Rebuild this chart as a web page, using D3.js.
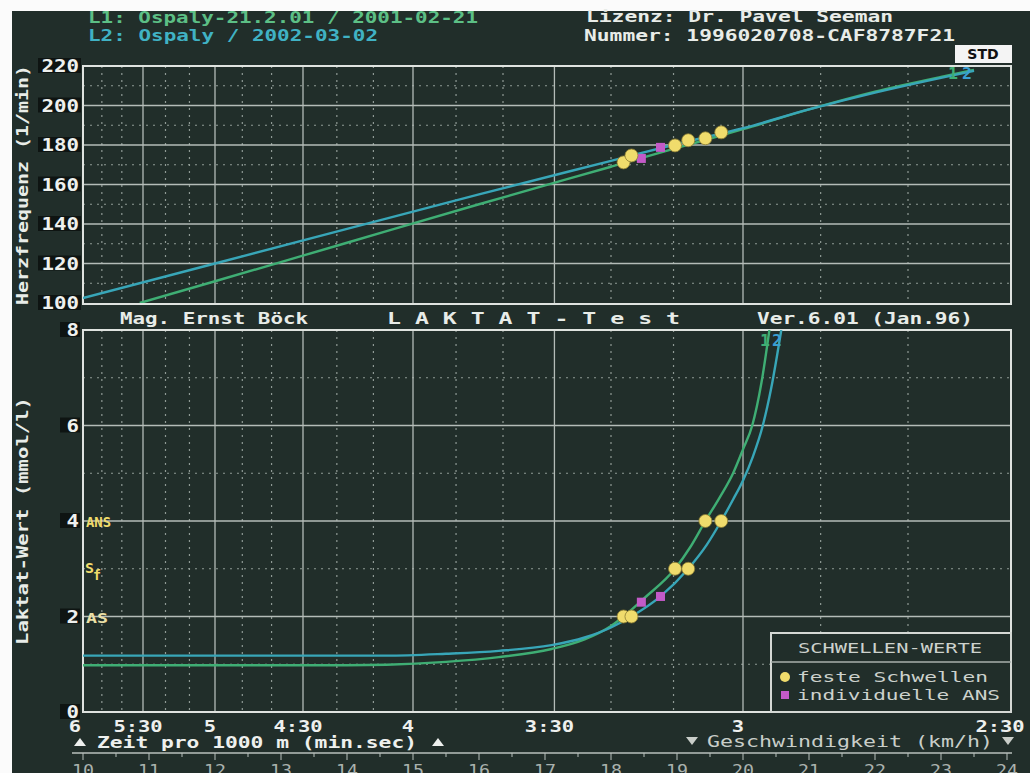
<!DOCTYPE html>
<html>
<head>
<meta charset="utf-8">
<script src="https://cdn.jsdelivr.net/npm/d3@7"></script>
<style>
  body { margin: 0; background: #fff; }
</style>
</head>
<body>
<svg id="chart" width="1030" height="773"></svg>
<script>
// heart rate curves (speed km/h -> 1/min)
const hrSpeedL1 = [10.86, 12, 14, 16, 18, 19, 20, 21, 22, 23, 23.5];
const hrL1 = [100, 111, 130.5, 150, 169, 178.5, 188, 198, 207, 214.5, 218];
const hrSpeedL2 = [10, 12, 14, 16, 18, 19, 20, 21, 22, 23, 23.5];
const hrL2 = [102.5, 120, 137.5, 155, 172, 180.5, 188.5, 198, 206.5, 214, 217.5];

// lactate curves (speed km/h -> mmol/l)
const lacSpeedL1 = [10, 12, 14, 14.6, 15.5, 16.3, 17.1, 17.6, 18, 18.19, 18.5, 18.97, 19.2, 19.43, 19.65, 19.85, 20.0, 20.14, 20.28, 20.4];
const lacL1 = [0.98, 0.98, 0.98, 0.99, 1.05, 1.15, 1.32, 1.52, 1.8, 2.0, 2.38, 3.0, 3.45, 4.0, 4.5, 5.0, 5.5, 6.0, 6.9, 8.0];
const lacSpeedL2 = [10, 12, 14, 14.6, 15.5, 16.3, 17.1, 17.6, 18, 18.31, 18.75, 19.17, 19.45, 19.67, 19.85, 20.0, 20.15, 20.3, 20.43, 20.58];
const lacL2 = [1.18, 1.18, 1.18, 1.18, 1.22, 1.28, 1.4, 1.56, 1.77, 2.0, 2.42, 3.0, 3.5, 4.0, 4.45, 4.85, 5.35, 6.0, 6.8, 8.0];

// fixed thresholds (AS, Sf, ANS)
const thrLactate = [2, 3, 4];
const thrSpeedL1 = [18.19, 18.97, 19.43];
const thrSpeedL2 = [18.31, 19.17, 19.67];
const thrHrL1 = [171.2, 179.8, 183.4];
const thrHrL2 = [174.7, 182.4, 186.4];

// individual ANS
const ansSpeed = [18.46, 18.75];
const ansLactate = [2.3, 2.42];
const ansHr = [173.2, 178.8];

// axis ticks
const hrTicks = [100, 120, 140, 160, 180, 200, 220];
const lacTicks = [0, 2, 4, 6, 8];
const paceSec = [360, 330, 300, 270, 240, 210, 180, 150];
const paceLabels = ["6", "5:30", "5", "4:30", "4", "3:30", "3", "2:30"];
const speedTicks = [10, 11, 12, 13, 14, 15, 16, 17, 18, 19, 20, 21, 22, 23, 24];

const bg = "#212e2a";
const colL1 = "#3fae74";
const colL2 = "#38a6b8";
const yellow = "#f0dc6c";
const magenta = "#c35ac8";
const font = "DejaVu Sans Mono, monospace";

const svg = d3.select("#chart");

const x = d3.scaleLinear().domain([10, 24]).range([83, 1007]);
const yHr = d3.scaleLinear().domain([100, 220]).range([303, 66]);
const yLac = d3.scaleLinear().domain([0, 8]).range([712, 330]);

function txt(g, px, py, s, w, fill, size, weight, anchor) {
    const t = g.append("text")
        .attr("x", px).attr("y", py)
        .attr("fill", fill)
        .attr("font-family", font)
        .attr("font-weight", weight || "bold")
        .attr("font-size", size || 16)
        .attr("text-anchor", anchor || "start")
        .text(s);
    if (w) t.attr("textLength", w).attr("lengthAdjust", "spacingAndGlyphs");
    return t;
}

// scan margin + screen
svg.append("rect").attr("width", 1030).attr("height", 773).attr("fill", "#fbfbfb");
svg.append("rect").attr("x", 12).attr("y", 11).attr("width", 1018).attr("height", 762).attr("fill", bg);

svg.append("defs").call(d => {
    d.append("clipPath").attr("id", "clipTop").append("rect")
        .attr("x", 83).attr("y", 66).attr("width", 928).attr("height", 237);
    d.append("clipPath").attr("id", "clipBot").append("rect")
        .attr("x", 83).attr("y", 330).attr("width", 928).attr("height", 382);
});

// header
txt(svg, 88, 23, "L1: Ospaly-21.2.01 / 2001-02-21", 390, "#5cbf85");
txt(svg, 88, 41, "L2: Ospaly / 2002-03-02", 290, "#40b2c4");
txt(svg, 586, 22, "Lizenz: Dr. Pavel Seeman", 307, "#e8ece8");
txt(svg, 584, 41, "Nummer: 1996020708-CAF8787F21", 371, "#e8ece8");
svg.append("rect").attr("x", 955).attr("y", 45).attr("width", 57).attr("height", 18).attr("fill", "#f4f4f4");
txt(svg, 983, 59, "STD", null, "#111", 14, "bold", "middle").attr("font-family", "DejaVu Sans, sans-serif");

// grid drawing
const paceGridSolid = [330, 300, 270, 240, 210, 180];
const paceGridDot = [350, 340, 320, 310, 290, 280, 260, 250, 230, 220, 200, 190, 170, 160];

function drawGrid(y0, y1, hSolid, hDot, yScale) {
    const g = svg.append("g");
    g.selectAll(".vd").data(paceGridDot).join("line")
        .attr("x1", d => x(3600 / d)).attr("x2", d => x(3600 / d))
        .attr("y1", y0).attr("y2", y1)
        .attr("stroke", "#8f9a95").attr("stroke-width", 1.2).attr("stroke-dasharray", "2,5");
    g.selectAll(".hd").data(hDot).join("line")
        .attr("x1", 83).attr("x2", 1011)
        .attr("y1", d => yScale(d)).attr("y2", d => yScale(d))
        .attr("stroke", "#8f9a95").attr("stroke-width", 1.2).attr("stroke-dasharray", "2,5");
    g.selectAll(".vs").data(paceGridSolid).join("line")
        .attr("x1", d => x(3600 / d)).attr("x2", d => x(3600 / d))
        .attr("y1", y0).attr("y2", y1)
        .attr("stroke", "#b4bcb8").attr("stroke-width", 1.3);
    g.selectAll(".hs").data(hSolid).join("line")
        .attr("x1", 83).attr("x2", 1011)
        .attr("y1", d => yScale(d)).attr("y2", d => yScale(d))
        .attr("stroke", "#b4bcb8").attr("stroke-width", 1.3);
}

drawGrid(66, 303, [120, 140, 160, 180, 200], [110, 130, 150, 170, 190, 210], yHr);
drawGrid(330, 712, [2, 4, 6], [1, 3, 5, 7], yLac);

// plot frames
svg.append("rect").attr("x", 83).attr("y", 66).attr("width", 928).attr("height", 238)
    .attr("fill", "none").attr("stroke", "#dfe3df").attr("stroke-width", 2);
svg.append("rect").attr("x", 83).attr("y", 330).attr("width", 928).attr("height", 382)
    .attr("fill", "none").attr("stroke", "#dfe3df").attr("stroke-width", 2);

// y tick labels
function yLabels(ticks, scale, boxX, boxW) {
    const g = svg.append("g");
    g.selectAll("rect").data(ticks).join("rect")
        .attr("x", boxX).attr("y", d => scale(d) - 8)
        .attr("width", boxW).attr("height", 15).attr("fill", "#0e1412");
    g.selectAll("text").data(ticks).join("text")
        .attr("x", 79).attr("y", d => scale(d) + 6)
        .attr("text-anchor", "end")
        .attr("fill", "#eef0ee")
        .attr("font-family", font).attr("font-weight", "bold").attr("font-size", 17)
        .attr("textLength", d => String(d).length * 12.5).attr("lengthAdjust", "spacingAndGlyphs")
        .text(d => d);
}
yLabels(hrTicks, yHr, 38, 43);
yLabels(lacTicks, yLac, 60, 20);

// axis titles
txt(svg, 0, 0, "Herzfrequenz (1/min)", 240, "#e8ece8", 16, "bold", "middle")
    .attr("transform", "translate(28,185) rotate(-90)");
txt(svg, 0, 0, "Laktat-Wert (mmol/l)", 248, "#e8ece8", 16, "bold", "middle")
    .attr("transform", "translate(28,521) rotate(-90)");

// middle title band
txt(svg, 120, 324, "Mag. Ernst Böck", 188, "#e8ece8");
txt(svg, 387, 324, "L A K T A T  -  T e s t", 293, "#e8ece8");
txt(svg, 757, 324, "Ver.6.01 (Jan.96)", 216, "#e8ece8");

// threshold labels
txt(svg, 86, 527, "ANS", 25, yellow, 14);
txt(svg, 85, 573, "S", 9, yellow, 14);
txt(svg, 93, 580, "f", 8, yellow, 14);
txt(svg, 86, 623, "AS", 22, "#ece0a6", 14);

// curves
const line = d3.line().x(d => x(d[0])).y(d => d[1]).curve(d3.curveMonotoneX);

function drawCurve(speeds, vals, scale, color, clip) {
    svg.append("path")
        .datum(speeds.map((s, i) => [s, scale(vals[i])]))
        .attr("clip-path", clip)
        .attr("fill", "none")
        .attr("stroke", color)
        .attr("stroke-width", 2.4)
        .attr("d", line);
}
drawCurve(hrSpeedL1, hrL1, yHr, colL1, "url(#clipTop)");
drawCurve(hrSpeedL2, hrL2, yHr, colL2, "url(#clipTop)");
drawCurve(lacSpeedL1, lacL1, yLac, colL1, "url(#clipBot)");
drawCurve(lacSpeedL2, lacL2, yLac, colL2, "url(#clipBot)");

// curve labels
txt(svg, 948, 79, "1", 10, colL1, 15);
txt(svg, 962, 79, "2", 10, "#3a9fd2", 15);
txt(svg, 760, 346, "1", 10, colL1, 15);
txt(svg, 772, 346, "2", 10, "#3a9fd2", 15);

// points
function dots(speeds, vals, scale) {
    svg.append("g").selectAll("circle").data(speeds).join("circle")
        .attr("cx", d => x(d)).attr("cy", (d, i) => scale(vals[i]))
        .attr("r", 6.5).attr("fill", yellow).attr("stroke", "#8c7c34").attr("stroke-width", 0.8);
}
function squares(speeds, vals, scale) {
    svg.append("g").selectAll("rect").data(speeds).join("rect")
        .attr("x", d => x(d) - 4.5).attr("y", (d, i) => scale(vals[i]) - 4.5)
        .attr("width", 9).attr("height", 9).attr("fill", magenta);
}
squares(ansSpeed, ansHr, yHr);
dots(thrSpeedL1, thrHrL1, yHr);
dots(thrSpeedL2, thrHrL2, yHr);
squares(ansSpeed, ansLactate, yLac);
dots(thrSpeedL1, thrLactate, yLac);
dots(thrSpeedL2, thrLactate, yLac);

// legend
const lg = svg.append("g");
lg.append("rect").attr("x", 771).attr("y", 633).attr("width", 240).attr("height", 79)
    .attr("fill", bg).attr("stroke", "#d4d8d4").attr("stroke-width", 2);
lg.append("line").attr("x1", 771).attr("x2", 1011).attr("y1", 662).attr("y2", 662)
    .attr("stroke", "#a8b0ac").attr("stroke-width", 1.5);
txt(lg, 798, 653, "SCHWELLEN-WERTE", 184, "#cdd2cd", 14, "normal");
lg.append("circle").attr("cx", 785).attr("cy", 677).attr("r", 5).attr("fill", yellow);
txt(lg, 797, 682, "feste Schwellen", 191, "#cdd2cd", 14, "normal");
lg.append("rect").attr("x", 781).attr("y", 691).attr("width", 8).attr("height", 8).attr("fill", magenta);
txt(lg, 797, 700, "individuelle ANS", 203, "#cdd2cd", 14, "normal");

// pace axis labels
svg.append("g").selectAll("text").data(paceSec).join("text")
    .attr("x", (d, i) => i === 0 ? 75 : (i === paceSec.length - 1 ? 1000 : x(3600 / d) - 5))
    .attr("y", 732)
    .attr("text-anchor", "middle")
    .attr("fill", "#eef0ee")
    .attr("font-family", font).attr("font-weight", "bold").attr("font-size", 16)
    .attr("textLength", (d, i) => paceLabels[i].length * 12.3).attr("lengthAdjust", "spacingAndGlyphs")
    .text((d, i) => paceLabels[i]);

// axis captions with arrows
const tri = (cx, cy, up) => up
    ? `M${cx - 6},${cy + 4}L${cx + 6},${cy + 4}L${cx},${cy - 4}Z`
    : `M${cx - 6},${cy - 4}L${cx + 6},${cy - 4}L${cx},${cy + 4}Z`;
svg.append("path").attr("d", tri(80, 742, true)).attr("fill", "#eef0ee");
svg.append("path").attr("d", tri(438, 742, true)).attr("fill", "#eef0ee");
txt(svg, 97, 748, "Zeit pro 1000 m (min.sec)", 320, "#eef0ee");
svg.append("path").attr("d", tri(692, 741, false)).attr("fill", "#c9cec9");
svg.append("path").attr("d", tri(1008, 741, false)).attr("fill", "#c9cec9");
txt(svg, 707, 747, "Geschwindigkeit (km/h)", 286, "#c9cec9", 16, "normal");

// speed axis
const sg = svg.append("g");
sg.append("line").attr("x1", 72).attr("x2", 1012).attr("y1", 753).attr("y2", 753)
    .attr("stroke", "#b8c0bc").attr("stroke-width", 1.5);
sg.selectAll(".tk").data(d3.range(10, 24.01, 0.5)).join("line")
    .attr("x1", d => x(d)).attr("x2", d => x(d))
    .attr("y1", 753).attr("y2", d => Number.isInteger(d) ? 760 : 757)
    .attr("stroke", "#b8c0bc").attr("stroke-width", 1);
sg.selectAll("text").data(speedTicks).join("text")
    .attr("x", d => x(d)).attr("y", 776)
    .attr("text-anchor", "middle")
    .attr("fill", "#aab2ae")
    .attr("font-family", font).attr("font-size", 16)
    .attr("textLength", 22).attr("lengthAdjust", "spacingAndGlyphs")
    .text(d => d);
</script>
</body>
</html>
